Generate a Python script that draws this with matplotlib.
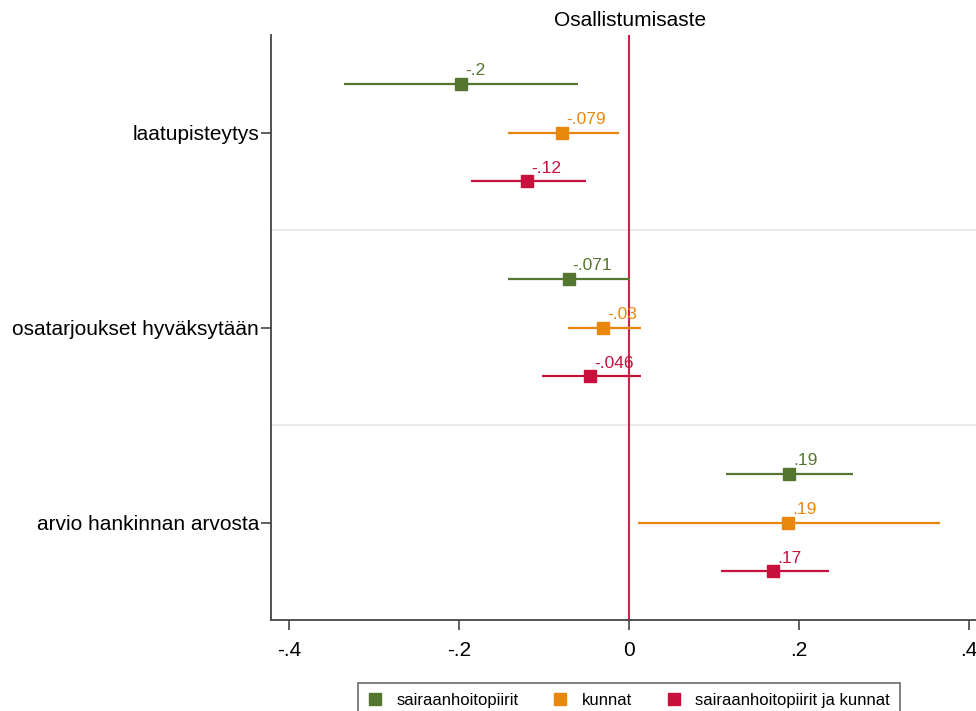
import matplotlib
matplotlib.use("Agg")
import matplotlib.pyplot as plt

plt.rcParams['font.family'] = ['Liberation Sans', 'DejaVu Sans']

# muuttujat ylhäältä alas
categories = ['laatupisteytys', 'osatarjoukset hyväksytään', 'arvio hankinnan arvosta']
series = ['sairaanhoitopiirit', 'kunnat', 'sairaanhoitopiirit ja kunnat']
colors = ['#55762f', '#e8870c', '#c8103c']

# kertoimet ja luottamusvälit (luettu kuvasta)
coef = [[-0.198, -0.071, 0.188],
        [-0.079, -0.030, 0.187],
        [-0.120, -0.046, 0.170]]
ci_lo = [[-0.335, -0.142, 0.114],
         [-0.142, -0.072, 0.011],
         [-0.186, -0.102, 0.108]]
ci_hi = [[-0.060, 0.001, 0.264],
         [-0.012, 0.014, 0.366],
         [-0.051, 0.014, 0.235]]
labels = [['-.2', '-.071', '.19'],
          ['-.079', '-.03', '.19'],
          ['-.12', '-.046', '.17']]

fig = plt.figure(figsize=(9.76, 7.11), dpi=100)
ax = fig.add_axes([271 / 976, 1 - 620 / 711, 718 / 976, (620 - 35) / 711])

offsets = [-0.25, 0.0, 0.25]
for s in range(3):
    ys = [g + offsets[s] for g in range(3)]
    ax.hlines(ys, ci_lo[s], ci_hi[s], color=colors[s], lw=1.6, zorder=3)
    ax.plot(coef[s], ys, 's', color=colors[s], ms=9, zorder=4, label=series[s])
    for g in range(3):
        ax.annotate(labels[s][g], (coef[s][g], ys[g]), xytext=(3, 4),
                    textcoords='offset points', color=colors[s], fontsize=12.5,
                    ha='left', va='bottom', zorder=5)

for y in [0.5, 1.5]:
    ax.axhline(y, color='#e6e6e6', lw=1.2, zorder=1)
ax.axvline(0, color='#d41f4b', lw=1.5, zorder=2)

ax.set_xlim(-0.421, 0.4235)
ax.set_ylim(2.5, -0.5)
ax.set_xticks([-0.4, -0.2, 0, 0.2, 0.4])
ax.set_xticklabels(['-.4', '-.2', '0', '.2', '.4'])
ax.set_yticks(range(3))
ax.set_yticklabels(categories)
ax.tick_params(axis='both', labelsize=15, length=7, width=1.2, color='#444444')
ax.tick_params(axis='x', pad=8)
ax.tick_params(axis='y', pad=1.5)
for side in ['top', 'right']:
    ax.spines[side].set_visible(False)
for side in ['left', 'bottom']:
    ax.spines[side].set_color('#444444')
    ax.spines[side].set_linewidth(1.3)

fig.text(630 / 976, 1 - 20 / 711, 'Osallistumisaste', ha='center', va='center', fontsize=15)

leg = fig.legend(loc='upper center', bbox_to_anchor=(629 / 976, 1 - 675 / 711), ncol=3,
                 frameon=True, fancybox=False, edgecolor='#444444', fontsize=12,
                 handletextpad=0.9, columnspacing=2.1, borderpad=0.6, handlelength=0.8,
                 markerscale=0.95)
leg.get_frame().set_linewidth(1.2)

fig.savefig('out.png', dpi=100)
